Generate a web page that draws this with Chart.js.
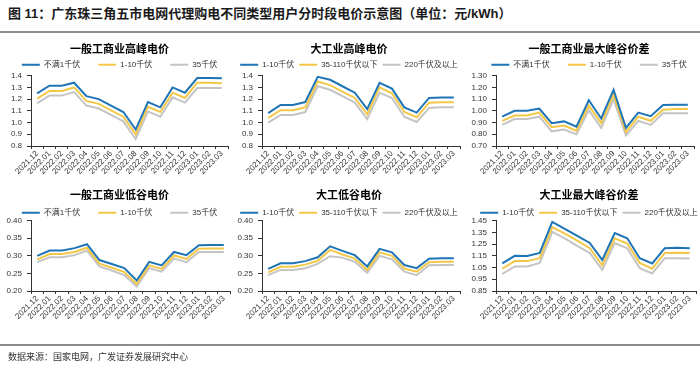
<!DOCTYPE html>
<html><head><meta charset="utf-8">
<script src="https://cdn.jsdelivr.net/npm/chart.js@4.4.0/dist/chart.umd.min.js"></script>
<style>
html,body{margin:0;padding:0;width:700px;height:368px;overflow:hidden;background:#fff;}
#hdr{position:absolute;left:8px;top:5px;font:bold 13px "Liberation Sans","Noto Sans CJK SC",sans-serif;color:#1a1a1a;line-height:18px;white-space:nowrap;}
.rule{position:absolute;left:0;width:700px;height:2px;background:#8c8c8c;}
#ftr{position:absolute;left:8px;top:350px;font:9px "Noto Sans CJK SC",sans-serif;color:#333;line-height:13px;white-space:nowrap;}
canvas{position:absolute;}
</style></head><body>
<div id="hdr">图 11：广东珠三角五市电网代理购电不同类型用户分时段电价示意图（单位：元/kWh）</div>
<div class="rule" style="top:31px"></div>
<canvas id="c1" width="239" height="152" style="left:0px;top:36px"></canvas>
<canvas id="c2" width="236" height="152" style="left:231px;top:36px"></canvas>
<canvas id="c3" width="248" height="152" style="left:465px;top:36px"></canvas>
<canvas id="c4" width="239" height="147" style="left:0px;top:186px"></canvas>
<canvas id="c5" width="236" height="147" style="left:231px;top:186px"></canvas>
<canvas id="c6" width="248" height="147" style="left:465px;top:186px"></canvas>
<div class="rule" style="top:344px"></div>
<div id="ftr">数据来源：国家电网，广发证券发展研究中心</div>
<script>
const categories = ['2021.12','2022.01','2022.02','2022.03','2022.04','2022.05','2022.06','2022.07','2022.08','2022.09','2022.10','2022.11','2022.12','2023.01','2023.02','2023.03'];

const namesGen = ['不满1千伏','1-10千伏','35千伏'];
const namesBig = ['1-10千伏','35-110千伏以下','220千伏及以上'];

// 一般工商业高峰电价
const genPeakA = [1.25,1.315,1.315,1.34,1.225,1.20,1.145,1.09,0.94,1.175,1.13,1.30,1.255,1.38,1.38,1.378];
const genPeakB = [1.205,1.27,1.27,1.30,1.185,1.16,1.105,1.05,0.90,1.135,1.09,1.255,1.21,1.34,1.34,1.335];
const genPeakC = [1.165,1.23,1.23,1.26,1.145,1.12,1.065,1.01,0.86,1.095,1.05,1.215,1.17,1.295,1.295,1.295];
// 大工业高峰电价
const bigPeakA = [1.08,1.15,1.15,1.175,1.39,1.365,1.31,1.255,1.115,1.34,1.29,1.13,1.085,1.21,1.213,1.213];
const bigPeakB = [1.04,1.105,1.105,1.13,1.35,1.32,1.265,1.21,1.07,1.30,1.25,1.09,1.045,1.17,1.173,1.173];
const bigPeakC = [1.00,1.065,1.065,1.09,1.31,1.28,1.225,1.17,1.03,1.255,1.21,1.05,1.005,1.125,1.13,1.13];
// 一般工商业最大峰谷价差
const genSpreadA = [0.95,1.00,1.00,1.02,0.895,0.91,0.865,1.09,0.935,1.18,0.855,0.985,0.955,1.05,1.052,1.052];
const genSpreadB = [0.915,0.96,0.96,0.985,0.86,0.875,0.83,1.045,0.895,1.14,0.82,0.95,0.915,1.01,1.015,1.015];
const genSpreadC = [0.88,0.93,0.93,0.95,0.825,0.84,0.80,1.005,0.855,1.10,0.79,0.915,0.88,0.98,0.98,0.98];
// 一般工商业低谷电价
const genValleyA = [0.30,0.315,0.315,0.322,0.333,0.288,0.277,0.265,0.23,0.283,0.273,0.311,0.302,0.33,0.331,0.331];
const genValleyB = [0.29,0.305,0.305,0.311,0.323,0.278,0.266,0.254,0.22,0.273,0.263,0.301,0.291,0.32,0.321,0.321];
const genValleyC = [0.282,0.296,0.296,0.302,0.315,0.27,0.258,0.245,0.213,0.265,0.255,0.292,0.282,0.311,0.311,0.311];
// 大工低谷电价
const bigValleyA = [0.263,0.279,0.279,0.285,0.296,0.327,0.314,0.302,0.27,0.32,0.31,0.274,0.265,0.292,0.293,0.293];
const bigValleyB = [0.253,0.269,0.269,0.275,0.286,0.317,0.304,0.292,0.26,0.31,0.30,0.264,0.255,0.282,0.283,0.283];
const bigValleyC = [0.245,0.26,0.26,0.265,0.277,0.299,0.295,0.283,0.252,0.30,0.29,0.255,0.245,0.273,0.274,0.274];
// 大工业最大峰谷价差
const bigSpreadA = [1.085,1.15,1.148,1.175,1.44,1.38,1.32,1.26,1.115,1.345,1.30,1.13,1.085,1.215,1.22,1.215];
const bigSpreadB = [1.04,1.105,1.105,1.13,1.395,1.34,1.28,1.215,1.07,1.30,1.255,1.09,1.04,1.175,1.177,1.175];
const bigSpreadC = [0.995,1.06,1.06,1.09,1.355,1.30,1.235,1.175,1.03,1.26,1.215,1.045,1.0,1.13,1.13,1.128];

const ticksPeak = ['0.8','0.9','1.0','1.1','1.2','1.3','1.4'];
const ticksGenSpread = ['0.70','0.80','0.90','1.00','1.10','1.20','1.30'];
const ticksValley = ['0.20','0.25','0.30','0.35','0.40'];
const ticksBigSpread = ['0.85','0.95','1.05','1.15','1.25','1.35','1.45'];

const colors = ['#1f74b6','#f3c848','#c4c4c4'];
const FONT = "'Liberation Sans','Noto Sans CJK SC',sans-serif";
Chart.defaults.font.family = FONT;
Chart.defaults.color = '#333';

// row layout: title padding and legend geometry
const rows = {
  top:    {pt:6.4, legendCenter:28.7, plotTop:39.7},
  bottom: {pt:2.4, legendCenter:26.7, plotTop:34.7}
};

function makeChart(id, title, names, series, yTicks, row, lp, yW, rW) {
  const r = rows[row];
  const T = r.legendCenter - lp - 4;
  const pb = T - (r.pt + 13.2);
  const maxH = r.plotTop - T;
  new Chart(document.getElementById(id), {
    type: 'line',
    data: {
      labels: categories,
      datasets: series.map((d, i) => ({
        label: names[i], data: d, borderColor: colors[i], backgroundColor: colors[i],
        borderWidth: 2, pointRadius: 0, tension: 0, fill: false
      }))
    },
    options: {
      responsive: false, animation: false, devicePixelRatio: 1,
      layout: {padding: 0},
      plugins: {
        tooltip: {enabled: false},
        title: {display: true, text: title, color: '#000',
          font: {family: "'Noto Sans CJK SC',sans-serif", size: 11, weight: 'bold'},
          padding: {top: r.pt, bottom: pb}},
        legend: {display: true, position: 'top', maxHeight: maxH,
          labels: {boxWidth: 18, boxHeight: 2, padding: lp, color: '#333',
            font: {family: FONT, size: 8},
            generateLabels: (chart) => Chart.defaults.plugins.legend.labels.generateLabels(chart)
              .map(l => Object.assign(l, {lineWidth: 0, fillStyle: l.strokeStyle}))}}
      },
      scales: {
        x: {type: 'category', offset: true,
          grid: {display: true, drawOnChartArea: false, tickLength: 3, color: '#333', offset: true},
          border: {color: '#333', width: 1},
          ticks: {minRotation: 45, maxRotation: 45, autoSkip: false, padding: 0, font: {size: 8}, color: '#333'},
          afterFit: (s) => { s.height = 42; }},
        y: {position: 'left', min: parseFloat(yTicks[0]), max: parseFloat(yTicks[yTicks.length - 1]),
          afterBuildTicks: (s) => { s.ticks = yTicks.map(v => ({value: parseFloat(v)})); },
          grid: {display: true, drawOnChartArea: false, tickLength: 4, color: '#333'},
          border: {color: '#333', width: 1},
          ticks: {autoSkip: false, padding: 5, font: {size: 8}, color: '#333', callback: (v, i) => yTicks[i]},
          afterFit: (s) => { s.width = yW; }},
        yr: {position: 'right', display: true, grid: {display: false}, border: {display: false},
          ticks: {display: false}, afterFit: (s) => { s.width = rW; }}
      }
    }
  });
}

makeChart('c1', '一般工商业高峰电价', namesGen, [genPeakA, genPeakB, genPeakC], ticksPeak, 'top', 18, 31, 11);
makeChart('c2', '大工业高峰电价', namesBig, [bigPeakA, bigPeakB, bigPeakC], ticksPeak, 'top', 5, 31, 7);
makeChart('c3', '一般工商业最大峰谷价差', namesGen, [genSpreadA, genSpreadB, genSpreadC], ticksGenSpread, 'top', 18, 31, 19);
makeChart('c4', '一般工商业低谷电价', namesGen, [genValleyA, genValleyB, genValleyC], ticksValley, 'bottom', 18, 31, 9);
makeChart('c5', '大工低谷电价', namesBig, [bigValleyA, bigValleyB, bigValleyC], ticksValley, 'bottom', 5, 31, 7);
makeChart('c6', '大工业最大峰谷价差', namesBig, [bigSpreadA, bigSpreadB, bigSpreadC], ticksBigSpread, 'bottom', 5, 31, 17);
</script>
</body></html>
